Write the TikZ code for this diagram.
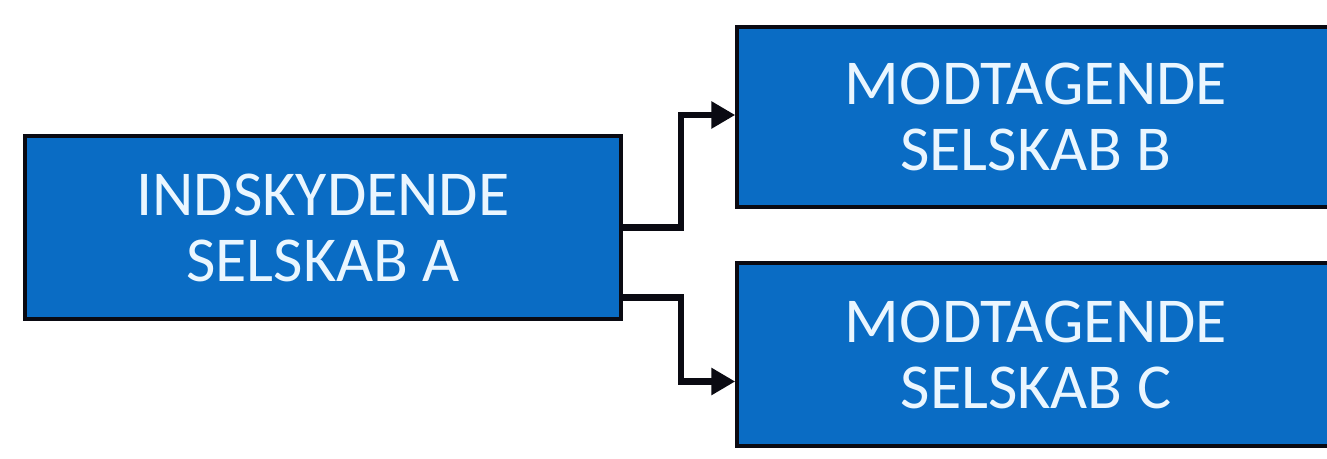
\documentclass[tikz,border=0pt]{standalone}
\usepackage{fontspec}
\setmainfont{Carlito}
\usetikzlibrary{arrows.meta}
\definecolor{boxblue}{HTML}{0A6CC4}
\definecolor{boxtext}{HTML}{EAF6FF}
\definecolor{edge}{HTML}{0A0A12}
\tikzset{
  company/.style={rectangle, draw=edge, line width=3.5pt, fill=boxblue,
    text=boxtext, align=center, inner sep=0pt,
    font=\fontsize{64}{66}\selectfont},
  link/.style={draw=edge, line width=6.5pt,
    -{Triangle[length=24pt,width=26pt]}}
}
\begin{document}
\begin{tikzpicture}[x=1pt,y=1pt]
  \useasboundingbox (0,0) rectangle (1327,458);
  \clip (0,0) rectangle (1327,458);
  \fill[white] (0,0) rectangle (1327,458);
  % source company
  \node[company, minimum width=596pt, minimum height=183pt] (A) at (323,230.5)
    {INDSKYDENDE\\SELSKAB A};
  % receiving companies (run past the right edge)
  \node[company, minimum width=598pt, minimum height=180pt] (B) at (1036,341)
    {MODTAGENDE\\SELSKAB B};
  \node[company, minimum width=598pt, minimum height=183pt] (C) at (1036,103.5)
    {MODTAGENDE\\SELSKAB C};
  % connectors
  \draw[link] (A.east) -- ++(58,0) |- ([yshift=2pt]B.west);
  \draw[link] ([yshift=-70pt]A.east) -- ++(58,0) |- ([yshift=-27pt]C.west);
\end{tikzpicture}
\end{document}
